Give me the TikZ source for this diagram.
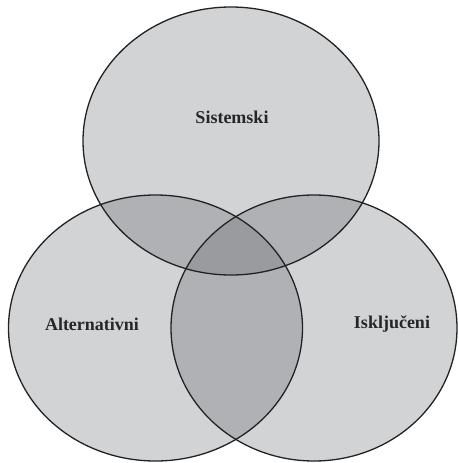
\documentclass[tikz,border=0pt]{standalone}
\usepackage{fontspec}
\setmainfont{Liberation Serif}
\definecolor{single}{HTML}{D2D3D5}
\definecolor{pair}{HTML}{B0B1B4}
\definecolor{triple}{HTML}{9A9B9E}
\definecolor{edge}{HTML}{222222}
\tikzset{
  outline/.style={draw=edge, line width=1.3pt},
  lbl/.style={font=\fontsize{18}{20}\selectfont\bfseries, text=black!85}
}
\begin{document}
\begin{tikzpicture}[x=1pt,y=-1pt]
\useasboundingbox (0,0) rectangle (458,463);
\def\SA{(231,141) ellipse [x radius=148, y radius=134]}
\def\AL{(155.5,328) ellipse [x radius=147, y radius=133]}
\def\IS{(314,328) ellipse [x radius=143, y radius=133]}
\fill[single] \SA;
\fill[single] \AL;
\fill[single] \IS;
\begin{scope}\clip \SA; \fill[pair] \AL; \fill[pair] \IS; \end{scope}
\begin{scope}\clip \AL; \fill[pair] \IS; \end{scope}
\begin{scope}\clip \SA; \clip \AL; \fill[triple] \IS; \end{scope}
\draw[outline] \SA;
\draw[outline] \AL;
\draw[outline] \IS;
\node[lbl] (s) at (232,117) {Sistemski};
\node[lbl] (a) at (92,324) {Alternativni};
\node[lbl] (i) at (392,324) {Isključeni};
\end{tikzpicture}
\end{document}
